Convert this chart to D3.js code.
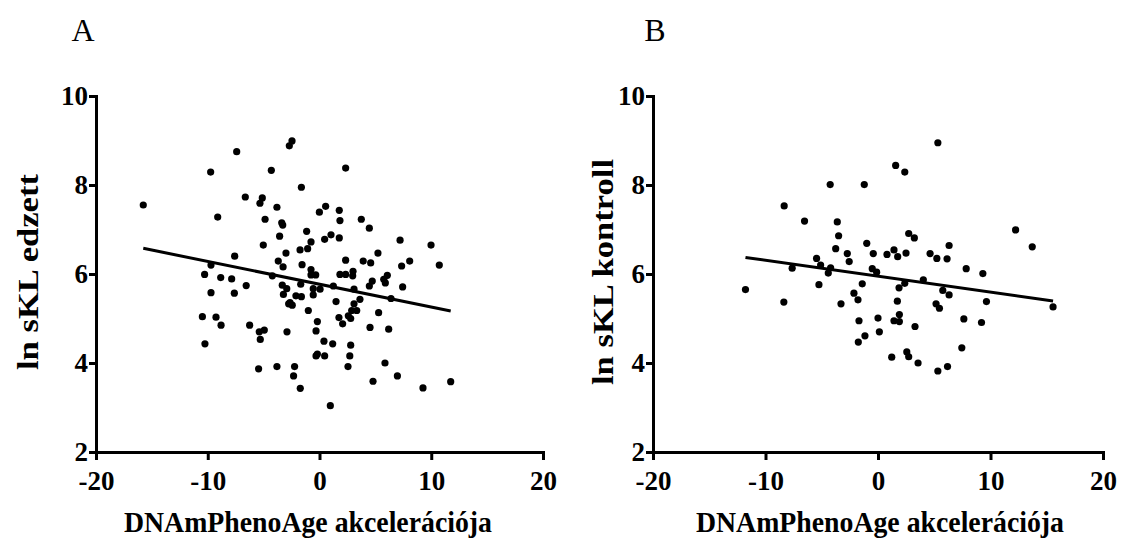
<!DOCTYPE html>
<html>
<head>
<meta charset="utf-8">
<script src="https://cdn.jsdelivr.net/npm/d3@7"></script>
<style>
  body { margin: 0; background: #fff; }
  svg { display: block; }
  .domain, .tick line { stroke: #000; stroke-width: 3; }
</style>
</head>
<body>
<svg width="1134" height="543"></svg>
<script>
// panel A - edzett (trained)
const edzettX = [-7.41,-2.70,-2.46,-9.74,-4.31,-15.77,-6.64,-5.12,-5.33,-3.81,-9.11,-4.87,-3.38,-3.29,-3.57,-5.03,-3.00,-7.59,-3.69,-3.26,-9.71,-10.28,-8.84,-7.86,-6.56,-4.22,-3.33,-2.93,
  -9.71,-7.62,-3.23,-2.76,-10.48,-9.26,-8.81,-10.25,-6.25,-5.39,-4.94,-5.30,-2.91,-5.45,-3.81,
  2.34,-1.62,-0.01,0.55,1.77,1.83,3.74,4.46,-1.15,-0.76,0.46,1.03,1.77,7.21,9.98,-1.74,-1.06,5.23,-1.56,2.34,3.91,4.58,8.07,7.35,10.72,-0.76,-0.76,-0.34,1.83,2.34,3.00,2.97,6.07,5.75,5.89,4.72,4.46,7.44,-1.68,-0.56,0.05,1.24,3.09,
  -0.56,-2.11,-1.62,-2.64,-2.44,1.48,3.62,3.09,2.88,3.33,2.58,2.79,1.74,2.07,6.40,5.29,-1.00,-0.19,-0.31,4.52,6.19,0.40,1.18,2.79,-0.31,-0.19,0.46,2.71,-2.23,-2.32,2.55,5.86,6.97,4.79,9.26,11.74,-1.72,0.97];
const edzettY = [8.75,8.88,8.99,8.29,8.33,7.55,7.73,7.71,7.59,7.5,7.28,7.23,7.15,7.1,6.85,6.65,6.47,6.4,6.29,6.16,6.2,5.99,5.92,5.89,5.74,5.96,5.75,5.67,
  5.58,5.57,5.54,5.33,5.04,5.03,4.85,4.43,4.85,4.7,4.74,4.53,4.7,3.87,3.92,
  8.38,7.95,7.39,7.52,7.43,7.2,7.23,7.03,6.96,6.72,6.78,6.88,6.81,6.76,6.65,6.54,6.57,6.47,6.21,6.31,6.29,6.25,6.29,6.18,6.2,6.1,5.98,5.98,5.99,5.99,6.06,5.96,5.97,5.88,5.8,5.84,5.73,5.71,5.77,5.67,5.66,5.73,5.66,
  5.53,5.51,5.49,5.36,5.3,5.38,5.43,5.33,5.18,5.18,5.06,5.0,5.02,4.88,5.45,5.13,5.18,4.93,4.72,4.8,4.76,4.49,4.43,4.4,4.16,4.2,4.16,4.16,3.92,3.71,3.92,4.0,3.71,3.59,3.44,3.58,3.43,3.04];

// panel B - kontroll (control)
const kontrollX = [1.57,-4.25,-1.22,-8.34,-6.53,-3.62,-3.5,-1.0,-3.76,-2.73,-2.56,-0.42,0.8,1.42,1.75,-5.46,-5.1,-7.63,-4.21,-4.42,-0.51,-0.12,-11.78,-5.25,-1.4,1.87,-2.14,
  5.32,2.38,2.73,3.23,12.23,13.71,2.49,6.32,4.63,5.23,6.14,7.84,9.32,4.03,2.38,5.76,
  -8.37,-3.29,-1.78,1.72,-1.69,0.0,1.42,1.9,1.9,0.12,-1.16,-1.75,1.22,
  6.32,9.64,15.56,5.16,5.46,3.29,7.63,9.2,7.45,2.56,2.73,3.56,5.32,6.18];
const kontrollY = [8.44,8.01,8.01,7.53,7.19,7.17,6.86,6.69,6.57,6.46,6.28,6.46,6.44,6.54,6.39,6.35,6.2,6.13,6.14,6.02,6.12,6.04,5.65,5.76,5.78,5.69,5.57,
  8.95,8.29,6.91,6.81,6.99,6.61,6.47,6.64,6.46,6.35,6.34,6.12,6.01,5.87,5.79,5.63,
  5.37,5.33,5.42,5.39,4.95,5.01,4.95,5.09,4.93,4.7,4.61,4.47,4.13,
  5.53,5.38,5.26,5.33,5.23,4.82,4.99,4.91,4.34,4.25,4.14,4.0,3.82,3.92];

// fitted lines: [intercept, slope]
const fitA = [5.77, -0.0512];
const fitB = [5.95, -0.0358];

const xTicks = [-20, -10, 0, 10, 20];
const yTicks = [2, 4, 6, 8, 10];
const xTitle = "DNAmPhenoAge akcelerációja";

const panels = [
  { letter: "A", ylab: "ln sKL edzett", xs: edzettX, ys: edzettY, fit: fitA,
    left: 96, right: 543, letterX: 83, xTitleX: 308, yTitleX: 38, yLen: 196 },
  { letter: "B", ylab: "ln sKL kontroll", xs: kontrollX, ys: kontrollY, fit: fitB,
    left: 653, right: 1103, letterX: 655, xTitleX: 880, yTitleX: 613, yLen: 226 }
];

const svg = d3.select("svg");
const plotTop = 96, plotBottom = 452;

// bold serif tick labels
function styleTicks(a) {
  a.attr("font-family", null).attr("font-size", null);
  a.selectAll("text")
    .style("font-family", "'Liberation Serif', serif")
    .style("font-weight", "bold")
    .style("font-size", "27px")
    .attr("fill", "#000");
}

panels.forEach(p => {
  const x = d3.scaleLinear().domain([-20, 20]).range([p.left, p.right]);
  const y = d3.scaleLinear().domain([2, 10]).range([plotBottom, plotTop]);
  const g = svg.append("g");

  g.append("g")
    .attr("transform", `translate(0,${plotBottom})`)
    .call(d3.axisBottom(x).tickValues(xTicks).tickFormat(d => String(d))
      .tickSize(8).tickSizeOuter(8).tickPadding(11))
    .call(styleTicks)
    .call(a => a.selectAll("text").attr("dy", "0.71em"));

  g.append("g")
    .attr("transform", `translate(${p.left},0)`)
    .call(d3.axisLeft(y).tickValues(yTicks).tickFormat(d => String(d))
      .tickSize(7).tickSizeOuter(7).tickPadding(1))
    .call(styleTicks);

  // regression line over the data range
  const ext = d3.extent(p.xs);
  g.append("line")
    .attr("x1", x(ext[0])).attr("y1", y(p.fit[0] + p.fit[1] * ext[0]))
    .attr("x2", x(ext[1])).attr("y2", y(p.fit[0] + p.fit[1] * ext[1]))
    .attr("stroke", "#000").attr("stroke-width", 3);

  g.selectAll(".dot")
    .data(p.xs.map((v, i) => [v, p.ys[i]]))
    .enter()
    .append("circle")
    .attr("class", "dot")
    .attr("cx", d => x(d[0]))
    .attr("cy", d => y(d[1]))
    .attr("r", 3.6)
    .attr("fill", "#000");

  g.append("text")
    .attr("x", p.letterX).attr("y", 41)
    .attr("text-anchor", "middle")
    .style("font-family", "'Liberation Serif', serif")
    .style("font-size", "32px")
    .text(p.letter);

  g.append("text")
    .attr("x", p.xTitleX).attr("y", 532)
    .attr("text-anchor", "middle")
    .attr("textLength", 368)
    .attr("lengthAdjust", "spacingAndGlyphs")
    .style("font-family", "'Liberation Serif', serif")
    .style("font-weight", "bold")
    .style("font-size", "30px")
    .text(xTitle);

  g.append("text")
    .attr("transform", `translate(${p.yTitleX},272) rotate(-90)`)
    .attr("text-anchor", "middle")
    .attr("textLength", p.yLen)
    .attr("lengthAdjust", "spacingAndGlyphs")
    .style("font-family", "'Liberation Serif', serif")
    .style("font-weight", "bold")
    .style("font-size", "30px")
    .text(p.ylab);
});
</script>
</body>
</html>
